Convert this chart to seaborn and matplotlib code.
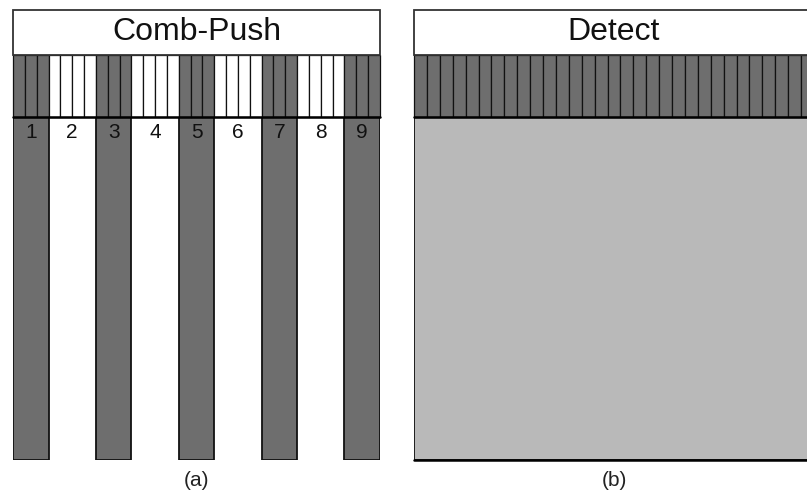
import numpy as np
import pandas as pd
import seaborn as sns
import matplotlib.pyplot as plt
from matplotlib.patches import Rectangle

# transducer groups used for the comb-push (a)
group_labels = ['1', '2', '3', '4', '5', '6', '7', '8', '9']
group_sizes = [3, 4, 3, 4, 3, 4, 3, 4, 3]
group_active = [True, False, True, False, True, False, True, False, True]
push_depth = [343, 343, 343, 343, 343]   # one beam per active group

# detection (b): every element is used
detect_elements = 31
detect_depth = 343

panel_titles = ['Comb-Push', 'Detect']
panel_tags = ['(a)', '(b)']

DARK = '#6e6e6e'
LIGHT = '#b9b9b9'
STRIP_H = 62
TITLE_H = 45

sns.set_style('white')
plt.rcParams['font.family'] = ['Liberation Sans', 'DejaVu Sans']

fig = plt.figure(figsize=(8.07, 4.96), dpi=100)
ax_a = fig.add_axes([13 / 807, 36 / 496, 367 / 807, 450 / 496])
ax_b = fig.add_axes([414 / 807, 36 / 496, 400 / 807, 450 / 496])


def draw_header(ax, n_elem, active, base, title, tag):
    ax.bar(np.arange(n_elem) + 0.5, STRIP_H, width=1, bottom=base,
           color=[DARK if a else 'white' for a in active],
           edgecolor='#111111', linewidth=0.9, clip_on=False)
    ax.plot([0, n_elem], [base, base], color='black', lw=1.8, clip_on=False)
    ax.add_patch(Rectangle((0, base + STRIP_H), n_elem, TITLE_H,
                           facecolor='white', edgecolor='#333333', lw=1.3,
                           clip_on=False))
    ax.text(n_elem / 2, base + STRIP_H + TITLE_H / 2, title,
            ha='center', va='center', fontsize=23, color='#111111')
    ax.text(n_elem / 2, -20, tag, ha='center', va='center',
            fontsize=15, color='#222222', clip_on=False)
    ax.set_xlim(0, n_elem)
    ax.set_ylim(0, base + STRIP_H + TITLE_H)
    ax.set_axis_off()


# (a) comb-push
edges = np.concatenate([[0], np.cumsum(group_sizes)])
centers = (edges[:-1] + edges[1:]) / 2
n_a = int(edges[-1])
elem_active = np.repeat(group_active, group_sizes)

beams = pd.DataFrame({'x': centers[np.array(group_active)], 'depth': push_depth})
sns.barplot(data=beams, x='x', y='depth', native_scale=True, width=3 / 7,
            color=DARK, saturation=1, edgecolor='#111111', linewidth=1.3,
            ax=ax_a)
for c, lab in zip(centers, group_labels):
    ax_a.text(c, max(push_depth) - 15, lab, ha='center', va='center',
              fontsize=15, color='#111111')
draw_header(ax_a, n_a, elem_active, max(push_depth), panel_titles[0], panel_tags[0])

# (b) detect
det = pd.DataFrame({'x': [detect_elements / 2], 'depth': [detect_depth]})
sns.barplot(data=det, x='x', y='depth', native_scale=True,
            width=detect_elements, color=LIGHT, saturation=1,
            edgecolor='#111111', linewidth=1.3, ax=ax_b)
ax_b.plot([0, detect_elements], [0, 0], color='black', lw=1.8, clip_on=False)
draw_header(ax_b, detect_elements, [True] * detect_elements, detect_depth,
            panel_titles[1], panel_tags[1])

fig.savefig('out.png', dpi=100)
